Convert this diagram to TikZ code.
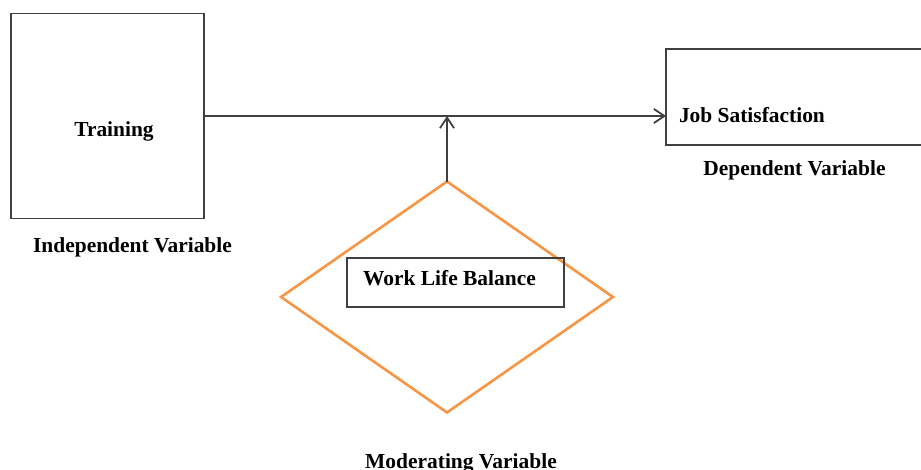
\documentclass[tikz,border=0pt]{standalone}
\usepackage{fontspec}
\setmainfont{Liberation Serif}
\usetikzlibrary{shapes.geometric}
\usetikzlibrary{arrows.meta}
\usetikzlibrary{positioning}
\definecolor{boxgray}{RGB}{64,64,64}
\definecolor{modorange}{RGB}{247,150,70}
\tikzset{
% open arrow tip
>={Straight Barb[length=6pt, width=8pt]}
}

\begin{document}
\begin{tikzpicture}[x=0.02cm, y=-0.02cm, inner sep=0, outer sep=0, line width=1pt,
  font=\fontsize{12.2}{14}\selectfont\bfseries]
  \clip (0,0) rectangle (921,470);

  \node[rectangle, draw=boxgray,
    minimum width = 3.86cm,
    minimum height = 4.1cm] (train) at (107.5,116) {};
  \node[anchor=base] (traintext) at (114,136) {Training};
  \node[anchor=base] (trainlabel) at (132.5,252) {Independent Variable};

  \node[rectangle, draw=boxgray,
    minimum width = 5.48cm,
    minimum height = 1.92cm] (job) at (803,97) {};
  \node[anchor=base west] (jobtext) at (679,122) {Job Satisfaction};
  \node[anchor=base] (joblabel) at (794.5,175) {Dependent Variable};

  \node[diamond, draw=modorange, line width=1.5pt,
    minimum width = 6.64cm,
    minimum height = 4.62cm] (mod) at (447,297) {};
  \node[rectangle, draw=boxgray,
    minimum width = 4.34cm,
    minimum height = 0.98cm] (wlb) at (455.5,282.5) {};
  \node[anchor=base] (wlbtext) at (449.5,285) {Work Life Balance};
  \node[anchor=base] (modlabel) at (461,468) {Moderating Variable};

  \draw[->, draw=boxgray] (train.east) -- (train.east -| job.west);
  \draw[->, draw=boxgray] (mod.north) -- (mod.north |- train.east);
\end{tikzpicture}
\end{document}
